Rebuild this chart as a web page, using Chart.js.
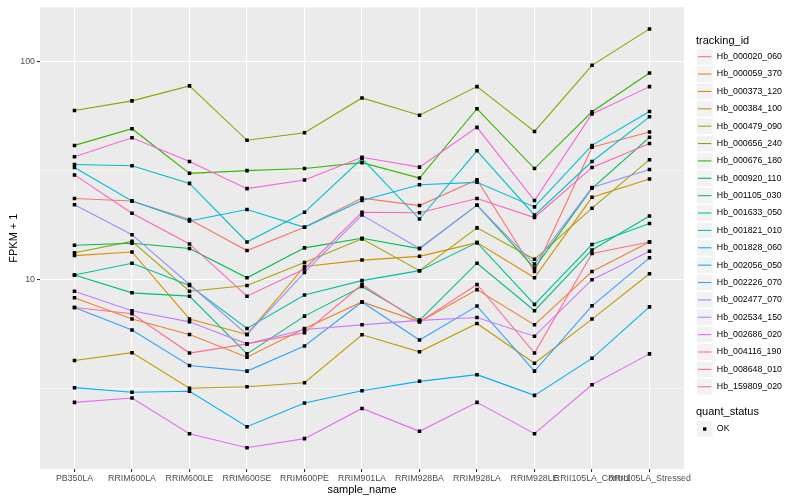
<!DOCTYPE html>
<html>
<head>
<meta charset="utf-8">
<script src="https://cdn.jsdelivr.net/npm/chart.js@4/dist/chart.umd.min.js"></script>
<style>
  html, body { margin: 0; padding: 0; background: #fff; }
  #wrap { width: 800px; height: 500px; }
</style>
</head>
<body>
<div id="wrap"><canvas id="chart" width="800" height="500"></canvas></div>
<script>
const samples = ["PB350LA", "RRIM600LA", "RRIM600LE", "RRIM600SE", "RRIM600PE", "RRIM901LA",
  "RRIM928BA", "RRIM928LA", "RRIM928LE", "RRII105LA_Control", "RRII105LA_Stressed"];

const trackingIds = ["Hb_000020_060", "Hb_000059_370", "Hb_000373_120", "Hb_000384_100",
  "Hb_000479_090", "Hb_000656_240", "Hb_000676_180", "Hb_000920_110", "Hb_001105_030",
  "Hb_001633_050", "Hb_001821_010", "Hb_001828_060", "Hb_002056_050", "Hb_002226_070",
  "Hb_002477_070", "Hb_002534_150", "Hb_002686_020", "Hb_004116_190", "Hb_008648_010",
  "Hb_159809_020"];

const colors = ["#F8766D", "#EA8331", "#D89000", "#C09B00", "#A3A500", "#7CAE00", "#39B600",
  "#00BB4E", "#00BF7D", "#00C1A3", "#00BFC4", "#00BAE0", "#00B0F6", "#35A2FF", "#9590FF",
  "#C77CFF", "#E76BF3", "#FA62DB", "#FF62BC", "#FF6C91"];

// FPKM + 1, one value per sample
const hb000020 = [23.6, 23.0, 18.9, 13.6, 17.4, 23.7, 21.9, 28.8, 10.9, 40.6, 47.7];
const hb000059 = [8.25, 6.6, 5.6, 4.4, 5.97, 7.9, 6.4, 9.0, 6.2, 10.9, 14.9];
const hb000373 = [12.9, 13.4, 6.6, 5.6, 11.5, 12.3, 12.8, 14.8, 10.2, 23.9, 29.0];
const hb000384 = [4.25, 4.62, 3.17, 3.22, 3.36, 5.58, 4.66, 6.29, 4.13, 6.59, 10.65];
const hb000479 = [13.3, 15.0, 8.85, 9.4, 12.0, 15.4, 11.0, 17.3, 12.4, 21.3, 35.6];
const hb000656 = [59.9, 66.3, 77.7, 43.7, 47.3, 68.4, 57.0, 77.1, 48.0, 96.6, 142];
const hb000676 = [41.4, 49.4, 30.8, 31.7, 32.4, 34.5, 29.3, 61.0, 32.4, 59.1, 89.1];
const hb000920 = [14.4, 14.7, 13.9, 10.2, 14.0, 15.5, 13.9, 22.0, 11.3, 26.3, 45.1];
const hb001105 = [10.5, 8.7, 8.4, 4.56, 6.8, 9.3, 6.5, 11.9, 7.2, 13.7, 19.6];
const hb001633 = [10.5, 11.9, 9.4, 5.97, 8.5, 9.9, 11.0, 14.8, 7.7, 14.5, 18.1];
const hb001821 = [33.8, 33.4, 27.7, 14.9, 20.4, 36.0, 19.0, 39.1, 19.8, 34.9, 56.0];
const hb001828 = [32.8, 23.0, 18.6, 21.0, 17.4, 23.1, 27.3, 28.0, 21.6, 41.4, 59.3];
const hb002056 = [3.19, 3.04, 3.07, 2.11, 2.71, 3.09, 3.41, 3.66, 2.94, 4.35, 7.5];
const hb002226 = [7.45, 5.87, 4.03, 3.8, 4.96, 7.9, 5.28, 7.56, 3.8, 7.58, 12.6];
const hb002477 = [22.1, 16.1, 9.5, 5.6, 10.8, 19.8, 13.9, 22.0, 11.8, 26.5, 32.1];
const hb002534 = [8.85, 7.2, 6.4, 5.07, 5.9, 6.2, 6.5, 6.7, 5.5, 10.0, 13.5];
const hb002686 = [2.73, 2.86, 1.96, 1.69, 1.86, 2.56, 2.01, 2.73, 1.96, 3.29, 4.56];
const hb004116 = [36.7, 44.9, 34.9, 26.2, 28.7, 36.5, 32.9, 50.1, 23.1, 57.7, 77.1];
const hb008648 = [30.3, 20.2, 14.6, 8.4, 11.2, 20.4, 20.3, 23.6, 19.3, 32.8, 42.2];
const hb159809 = [7.45, 6.97, 4.6, 5.07, 5.7, 9.5, 6.4, 9.5, 4.6, 13.2, 14.9];

const series = [hb000020, hb000059, hb000373, hb000384, hb000479, hb000656, hb000676,
  hb000920, hb001105, hb001633, hb001821, hb001828, hb002056, hb002226, hb002477,
  hb002534, hb002686, hb004116, hb008648, hb159809];

const yBreaks = [10, 100];
const yMinorBreaks = [3.1623, 31.623];

const FONT = '"Liberation Sans", Arial, Helvetica, sans-serif';
Chart.defaults.font.family = FONT;

const datasets = trackingIds.map((id, i) => ({
  label: id,
  data: series[i].map((v, j) => ({ x: j, y: v })),
  borderColor: colors[i],
  borderWidth: 1.1,
  pointRadius: 0,
  tension: 0,
  order: trackingIds.length - i
}));

// quant_status = OK for every point, drawn on top of the lines
datasets.push({
  label: "OK",
  type: "scatter",
  data: series.flatMap(s => s.map((v, j) => ({ x: j, y: v }))),
  pointStyle: "rect",
  pointRadius: 2.5,
  backgroundColor: "#000",
  borderWidth: 0,
  order: -1
});

/* grey panel */
const panelBg = {
  id: "panelBg",
  beforeDraw(chart) {
    const { ctx, chartArea: a } = chart;
    ctx.save();
    ctx.fillStyle = "#EBEBEB";
    ctx.fillRect(a.left, a.top, a.right - a.left, a.bottom - a.top);
    ctx.restore();
  }
};

/* ggplot style legends on the right */
const sideLegend = {
  id: "sideLegend",
  afterDraw(chart) {
    const ctx = chart.ctx;
    const x0 = 696, key = 17.37;
    ctx.save();
    ctx.textBaseline = "middle";
    ctx.fillStyle = "#000";
    ctx.font = "11px " + FONT;
    ctx.fillText("tracking_id", x0, 40.7);
    ctx.font = "8.8px " + FONT;
    trackingIds.forEach((id, i) => {
      const cy = 56.7 + i * key;
      ctx.fillStyle = "#F2F2F2";
      ctx.fillRect(x0 + 0.8, cy - key / 2 + 0.8, key - 1.6, key - 1.6);
      ctx.strokeStyle = colors[i];
      ctx.lineWidth = 1.1;
      ctx.beginPath();
      ctx.moveTo(x0 + 2, cy);
      ctx.lineTo(x0 + key - 2, cy);
      ctx.stroke();
      ctx.fillStyle = "#000";
      ctx.fillText(id, x0 + key + 3.5, cy);
    });
    ctx.font = "11px " + FONT;
    ctx.fillText("quant_status", x0, 412.3);
    const cy = 429;
    ctx.fillStyle = "#F2F2F2";
    ctx.fillRect(x0 + 0.8, cy - key / 2 + 0.8, key - 1.6, key - 1.6);
    ctx.fillStyle = "#000";
    ctx.fillRect(x0 + key / 2 - 1.7, cy - 1.7, 3.4, 3.4);
    ctx.font = "8.8px " + FONT;
    ctx.fillText("OK", x0 + key + 3.5, cy);
    ctx.restore();
  }
};

new Chart(document.getElementById("chart"), {
  type: "line",
  data: { datasets },
  options: {
    responsive: false,
    animation: false,
    layout: { padding: { left: 5, top: 5, right: 116, bottom: 0 } },
    plugins: {
      legend: { display: false },
      tooltip: { enabled: false }
    },
    scales: {
      x: {
        type: "linear",
        min: -0.6,
        max: samples.length - 0.4,
        afterBuildTicks: s => { s.ticks = samples.map((_, i) => ({ value: i })); },
        afterFit: s => { s.height = 31; },
        ticks: {
          callback: v => samples[v],
          autoSkip: false,
          maxRotation: 0,
          minRotation: 0,
          padding: 1,
          color: "#4D4D4D",
          font: { size: 8.8 }
        },
        grid: { color: "#FFFFFF", lineWidth: 1.1, tickColor: "#333333", tickLength: 3 },
        border: { display: false },
        title: {
          display: true,
          text: "sample_name",
          color: "#000",
          font: { size: 11 },
          padding: { top: 0, bottom: 3 }
        }
      },
      y: {
        type: "logarithmic",
        min: 1.349,
        max: 178.5,
        afterBuildTicks: s => {
          s.ticks = yMinorBreaks.concat(yBreaks).sort((a, b) => a - b).map(v => ({ value: v }));
        },
        afterFit: s => { s.width = 35; },
        ticks: {
          callback: v => (yBreaks.includes(v) ? String(v) : ""),
          padding: 2,
          color: "#4D4D4D",
          font: { size: 8.8 }
        },
        grid: {
          color: "#FFFFFF",
          lineWidth: c => (c.tick && yBreaks.includes(c.tick.value) ? 1.1 : 0.55),
          tickColor: c => (c.tick && yBreaks.includes(c.tick.value) ? "#333333" : "rgba(0,0,0,0)"),
          tickLength: 3
        },
        border: { display: false },
        title: {
          display: true,
          text: "FPKM + 1",
          color: "#000",
          font: { size: 11 },
          padding: { top: 2, bottom: 0 }
        }
      }
    }
  },
  plugins: [panelBg, sideLegend]
});
</script>
</body>
</html>
